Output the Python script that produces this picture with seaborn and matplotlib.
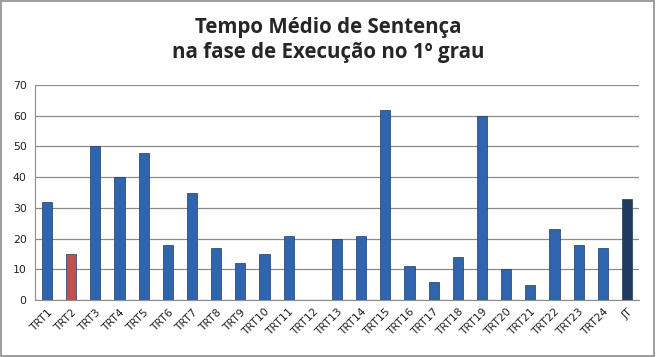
import matplotlib
matplotlib.use("Agg")
import matplotlib.pyplot as plt
import seaborn as sns
import numpy as np
from matplotlib.patches import Rectangle

categories = ["TRT1", "TRT2", "TRT3", "TRT4", "TRT5", "TRT6", "TRT7", "TRT8", "TRT9", "TRT10",
              "TRT11", "TRT12", "TRT13", "TRT14", "TRT15", "TRT16", "TRT17", "TRT18", "TRT19",
              "TRT20", "TRT21", "TRT22", "TRT23", "TRT24", "JT"]
values = [32, 15, 50, 40, 48, 18, 35, 17, 12, 15, 21, 0, 20, 21, 62, 11, 6, 14, 60, 10, 5, 23, 18, 17, 33]
yticks = [0, 10, 20, 30, 40, 50, 60, 70]
title = "Tempo Médio de Sentença\nna fase de Execução no 1º grau"

BLUE = "#2E65AE"
RED = "#C0504D"
DARK = "#1F3A5F"
colors = {c: BLUE for c in categories}
colors["TRT2"] = RED
colors["JT"] = DARK

sns.set_style("white")
plt.rcParams["font.family"] = ["DejaVu Sans"]

fig = plt.figure(figsize=(6.56, 3.57), dpi=100)
ax = fig.add_axes([35/656, 1-300/357, (639-35)/656, (300-85)/357])

sns.barplot(x=categories, y=values, hue=categories, palette=colors, legend=False,
            width=0.42, ax=ax, saturation=1, edgecolor="#1A3A66", linewidth=0.5)

ax.set_ylim(0, 70)
ax.set_xlim(-0.5, len(categories) - 0.5)
ax.set_yticks(yticks)
ax.set_yticklabels([str(t) for t in yticks], fontsize=7.8, color="#222222")
ax.yaxis.grid(True, color="#8C8C8C", linewidth=0.9)
ax.set_axisbelow(True)
ax.tick_params(axis="y", length=0, pad=6)

ax.set_xticks(range(len(categories)))
ax.set_xticklabels(categories, rotation=45, ha="right", rotation_mode="anchor",
                   fontsize=7.8, color="#222222")
ax.tick_params(axis="x", which="major", length=0, pad=5)
ax.set_xticks(np.arange(-0.5, len(categories), 1.0), minor=True)
ax.tick_params(axis="x", which="minor", length=4, color="#8C8C8C", width=0.8)

for side in ["top", "right"]:
    ax.spines[side].set_visible(False)
ax.spines["left"].set_color("#8C8C8C")
ax.spines["bottom"].set_color("#8C8C8C")
ax.set_xlabel("")
ax.set_ylabel("")

fig.text(0.5, 1-40/357, title, ha="center", va="center", fontsize=14.8,
         fontweight="bold", family=["Open Sans", "DejaVu Sans"], linespacing=1.25)

fig.patches.append(Rectangle((0.002, 0.003), 0.995, 0.993, transform=fig.transFigure,
                             fill=False, edgecolor="#8C8C8C", linewidth=1.2))

fig.savefig("out.png", dpi=100)
